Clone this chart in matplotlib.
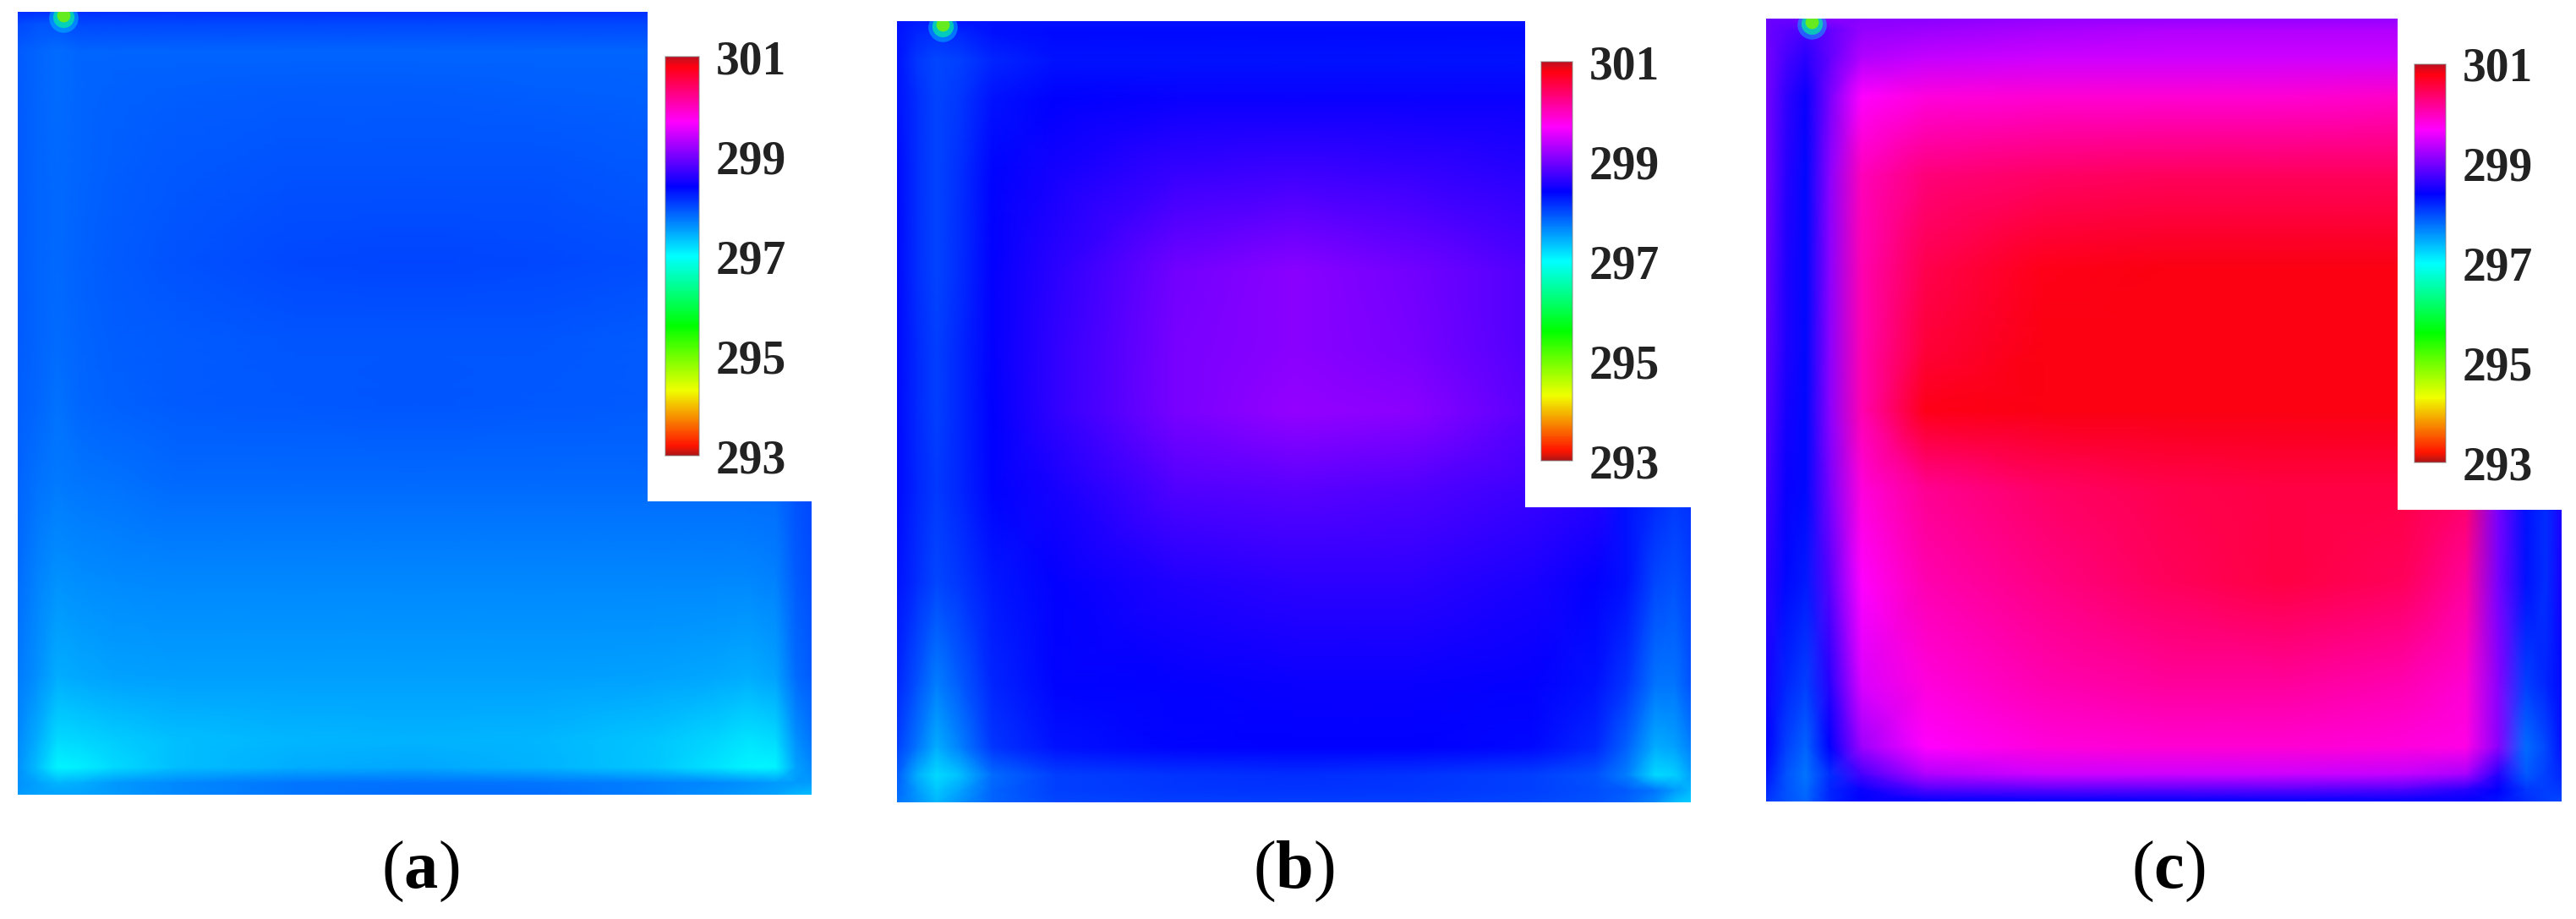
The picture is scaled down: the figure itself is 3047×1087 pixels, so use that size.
"""
Temperature maps of three cases with a rainbow scale (293-301)
"""

import matplotlib
matplotlib.use('Agg')  # no GUI backend
import matplotlib.pyplot as plt
from matplotlib.colors import LinearSegmentedColormap, Normalize
from matplotlib.cm import ScalarMappable
from matplotlib.patches import Rectangle

W, H = 3047, 1087

panel_labels = ['a', 'b', 'c']
scale_ticks = [293, 295, 297, 299, 301]

# colours of the scale
scale_temps = [293.0, 293.2, 294.3, 295.6, 297.0, 298.4, 299.7, 300.8, 301.0]
scale_colors = ['#b01515', '#ff1500', '#f0ff00', '#00ff00', '#00ffff', '#0000ff',
                '#ff00ff', '#ff0010', '#c01020']

# grid nodes as fractions of the panel, left to right and top to bottom
x_nodes = [0, .025, .05, .08, .12, .2, .35, .5, .65, .8, .88, .92, .955, .98, 1]
y_nodes = [0, .015, .05, .1, .2, .32, .42, .5, .6, .72, .85, .93, .965, .985, 1]

temps_a = [
    [298.15, 298.15, 298.15, 298.15, 298.15, 298.15, 298.15, 298.15, 298.15, 298.15, 298.15, 298.15, 298.15, 298.15, 298.15],
    [298.0, 297.95, 297.95, 298.0, 298.0, 298.0, 298.0, 298.0, 298.0, 298.0, 298.0, 298.0, 298.0, 298.0, 298.0],
    [297.9, 297.85, 297.8, 297.85, 297.85, 297.85, 297.85, 297.85, 297.85, 297.85, 297.85, 297.85, 297.85, 297.85, 297.85],
    [297.9, 297.85, 297.8, 297.85, 297.87, 297.88, 297.9, 297.9, 297.88, 297.87, 297.87, 297.87, 297.87, 297.87, 297.87],
    [297.9, 297.85, 297.82, 297.85, 297.88, 297.92, 297.95, 297.95, 297.95, 297.92, 297.9, 297.9, 297.9, 297.9, 297.9],
    [297.9, 297.85, 297.82, 297.87, 297.9, 297.95, 298.0, 298.03, 298.0, 297.97, 297.95, 297.95, 297.95, 297.95, 297.95],
    [297.9, 297.85, 297.8, 297.85, 297.88, 297.9, 297.93, 297.93, 297.93, 297.9, 297.9, 297.9, 297.9, 297.9, 297.9],
    [297.88, 297.83, 297.78, 297.83, 297.87, 297.9, 297.92, 297.93, 297.92, 297.9, 297.9, 297.9, 297.9, 297.9, 297.9],
    [297.85, 297.78, 297.72, 297.75, 297.78, 297.82, 297.82, 297.82, 297.82, 297.82, 297.82, 297.82, 297.82, 297.95, 298.0],
    [297.8, 297.68, 297.6, 297.63, 297.65, 297.67, 297.67, 297.67, 297.67, 297.67, 297.67, 297.67, 297.7, 297.9, 297.98],
    [297.72, 297.6, 297.45, 297.47, 297.5, 297.52, 297.53, 297.53, 297.52, 297.5, 297.47, 297.45, 297.5, 297.8, 297.9],
    [297.65, 297.45, 297.2, 297.22, 297.28, 297.35, 297.4, 297.42, 297.4, 297.32, 297.22, 297.15, 297.2, 297.6, 297.75],
    [297.6, 297.35, 297.05, 297.08, 297.2, 297.35, 297.45, 297.47, 297.42, 297.3, 297.15, 297.05, 297.05, 297.5, 297.65],
    [297.6, 297.5, 297.4, 297.45, 297.55, 297.65, 297.75, 297.78, 297.75, 297.7, 297.65, 297.6, 297.55, 297.55, 297.55],
    [297.55, 297.5, 297.5, 297.5, 297.55, 297.65, 297.75, 297.8, 297.8, 297.7, 297.6, 297.55, 297.5, 297.4, 297.35],
]

temps_b = [
    [298.3, 298.25, 298.25, 298.3, 298.3, 298.3, 298.3, 298.3, 298.3, 298.3, 298.3, 298.3, 298.3, 298.3, 298.3],
    [298.3, 298.2, 298.15, 298.2, 298.3, 298.35, 298.35, 298.35, 298.35, 298.35, 298.35, 298.35, 298.35, 298.35, 298.35],
    [298.3, 298.1, 298.0, 298.05, 298.2, 298.3, 298.3, 298.3, 298.3, 298.3, 298.3, 298.3, 298.3, 298.3, 298.3],
    [298.3, 298.15, 298.02, 298.1, 298.3, 298.4, 298.45, 298.45, 298.45, 298.45, 298.45, 298.45, 298.45, 298.45, 298.45],
    [298.35, 298.15, 298.02, 298.15, 298.38, 298.5, 298.68, 298.72, 298.68, 298.6, 298.58, 298.58, 298.58, 298.58, 298.58],
    [298.35, 298.15, 298.03, 298.17, 298.42, 298.62, 298.98, 299.1, 298.98, 298.8, 298.72, 298.72, 298.72, 298.72, 298.72],
    [298.35, 298.18, 298.05, 298.2, 298.42, 298.65, 299.0, 299.1, 299.0, 298.8, 298.72, 298.72, 298.72, 298.72, 298.72],
    [298.35, 298.18, 298.05, 298.2, 298.4, 298.65, 299.0, 299.15, 299.1, 298.85, 298.75, 298.75, 298.75, 298.75, 298.75],
    [298.35, 298.2, 298.08, 298.2, 298.38, 298.5, 298.8, 298.85, 298.8, 298.7, 298.6, 298.3, 298.2, 298.1, 298.15],
    [298.3, 298.15, 298.0, 298.1, 298.28, 298.42, 298.55, 298.62, 298.62, 298.52, 298.42, 298.3, 298.0, 297.95, 298.05],
    [298.2, 297.95, 297.7, 297.9, 298.2, 298.38, 298.42, 298.45, 298.45, 298.42, 298.3, 298.1, 297.75, 297.75, 297.95],
    [298.05, 297.75, 297.45, 297.7, 298.1, 298.3, 298.38, 298.4, 298.4, 298.35, 298.18, 297.85, 297.45, 297.5, 297.7],
    [297.9, 297.45, 297.2, 297.35, 297.8, 298.05, 298.12, 298.15, 298.12, 298.05, 297.95, 297.7, 297.2, 297.25, 297.5],
    [297.85, 297.55, 297.3, 297.5, 297.85, 298.05, 298.1, 298.12, 298.1, 298.05, 297.98, 297.9, 297.75, 297.55, 297.4],
    [297.75, 297.6, 297.4, 297.6, 297.85, 298.0, 298.05, 298.05, 298.05, 298.0, 297.95, 297.85, 297.65, 297.35, 297.25],
]

temps_c = [
    [298.95, 298.95, 299.0, 299.1, 299.1, 299.1, 299.15, 299.15, 299.15, 299.15, 299.15, 299.15, 299.15, 299.15, 299.15],
    [298.95, 298.85, 298.75, 298.9, 299.15, 299.2, 299.25, 299.3, 299.3, 299.3, 299.3, 299.3, 299.3, 299.3, 299.3],
    [299.0, 298.75, 298.6, 298.9, 299.3, 299.4, 299.45, 299.45, 299.45, 299.45, 299.45, 299.45, 299.45, 299.45, 299.45],
    [299.0, 298.65, 298.45, 299.0, 299.7, 299.85, 299.9, 299.9, 299.9, 299.95, 299.95, 299.95, 299.95, 299.95, 299.95],
    [299.0, 298.6, 298.35, 299.1, 300.0, 300.3, 300.4, 300.45, 300.45, 300.45, 300.45, 300.45, 300.45, 300.45, 300.45],
    [298.95, 298.55, 298.35, 299.1, 300.05, 300.5, 300.75, 300.8, 300.8, 300.8, 300.8, 300.8, 300.8, 300.8, 300.8],
    [298.9, 298.55, 298.35, 299.1, 300.05, 300.6, 300.8, 300.8, 300.8, 300.8, 300.8, 300.8, 300.8, 300.8, 300.8],
    [298.85, 298.5, 298.35, 299.1, 300.05, 300.75, 300.8, 300.8, 300.8, 300.8, 300.8, 300.8, 300.8, 300.8, 300.8],
    [298.75, 298.45, 298.35, 299.0, 299.85, 300.2, 300.4, 300.5, 300.55, 300.55, 300.4, 299.0, 298.3, 298.15, 298.55],
    [298.65, 298.35, 298.25, 298.85, 299.7, 300.05, 300.25, 300.45, 300.55, 300.45, 300.15, 299.0, 298.3, 298.15, 298.5],
    [298.5, 298.2, 298.05, 298.6, 299.5, 299.85, 300.05, 300.15, 300.15, 300.05, 299.9, 299.1, 298.05, 298.2, 298.35],
    [298.4, 298.05, 297.85, 298.4, 299.2, 299.7, 299.85, 299.9, 299.9, 299.85, 299.8, 299.1, 297.8, 298.0, 298.3],
    [298.3, 297.95, 297.75, 298.15, 298.75, 299.3, 299.45, 299.45, 299.45, 299.4, 299.25, 298.6, 297.9, 298.05, 298.2],
    [298.2, 297.95, 297.8, 298.2, 298.45, 298.8, 298.85, 298.85, 298.85, 298.8, 298.6, 298.4, 298.1, 298.05, 298.1],
    [298.1, 297.95, 297.85, 298.2, 298.4, 298.4, 298.4, 298.4, 298.4, 298.4, 298.4, 298.3, 298.15, 298.05, 298.0],
]

all_temps = [temps_a, temps_b, temps_c]

# pixel boxes of each panel: left, right, top, bottom, then notch corner
panel_boxes = [(21, 960, 14, 940, 766, 593),
               (1061, 2000, 25, 949, 1804, 600),
               (2089, 3030, 22, 948, 2836, 603)]
# scale bars: left, right, top, bottom
bar_boxes = [(787, 827, 67, 539),
             (1823, 1860, 73, 545),
             (2856, 2893, 76, 547)]
label_centers = [497, 1530, 2565]


def px_axes(fig, left, right, top, bottom):
    return fig.add_axes([left / W, 1 - bottom / H, (right - left) / W, (bottom - top) / H])


plt.rcParams['font.family'] = ['Liberation Serif', 'DejaVu Serif']
plt.rcParams['mathtext.fontset'] = 'custom'
plt.rcParams['mathtext.rm'] = 'Liberation Serif'
plt.rcParams['mathtext.bf'] = 'Liberation Serif:bold'

cmap = LinearSegmentedColormap.from_list(
    'scale', [((t - 293) / 8, c) for t, c in zip(scale_temps, scale_colors)], N=512)
norm = Normalize(293, 301)

fig = plt.figure(figsize=(W / 100, H / 100), dpi=100, facecolor='white')

for i, temps in enumerate(all_temps):
    left, right, top, bottom, nx, ny = panel_boxes[i]
    ax = px_axes(fig, left, right, top, bottom)
    ax.pcolormesh(x_nodes, y_nodes, temps, cmap=cmap, norm=norm, shading='gouraud')
    ax.set_xlim(0, 1)
    ax.set_ylim(1, 0)
    ax.axis('off')

    # white corner behind the scale
    fx = (nx - left) / (right - left)
    fy = (ny - top) / (bottom - top)
    ax.add_patch(Rectangle((fx, -0.02), 1.02 - fx, fy + 0.02, color='white', lw=0, zorder=3))

    # sensor spot at the top left, soft halo then core
    ax.scatter([0.0575], [0.008], s=620, color='#00d0ff', alpha=0.45, lw=0, zorder=4)
    ax.scatter([0.0575], [0.006], s=330, color='#00f0a0', alpha=0.7, lw=0, zorder=4)
    ax.scatter([0.0575], [0.004], s=130, color='#70f010', alpha=0.9, lw=0, zorder=4)

    l, r, t, b = bar_boxes[i]
    cax = px_axes(fig, l, r, t, b)
    cb = fig.colorbar(ScalarMappable(norm=norm, cmap=cmap), cax=cax, ticks=scale_ticks)
    cb.outline.set_edgecolor('#808080')
    cb.outline.set_linewidth(1.2)
    cb.outline.set_alpha(0.5)
    cb.ax.tick_params(length=0, pad=14, labelsize=40, labelcolor='#222222')
    for lab in cb.ax.get_yticklabels():
        lab.set_fontweight('bold')

    fig.text(label_centers[i] / W, 1 - 1031 / H, '($\\mathbf{%s}$)' % panel_labels[i],
             fontsize=58, ha='center', va='center', color='black')

fig.savefig('out.png', dpi=100)
